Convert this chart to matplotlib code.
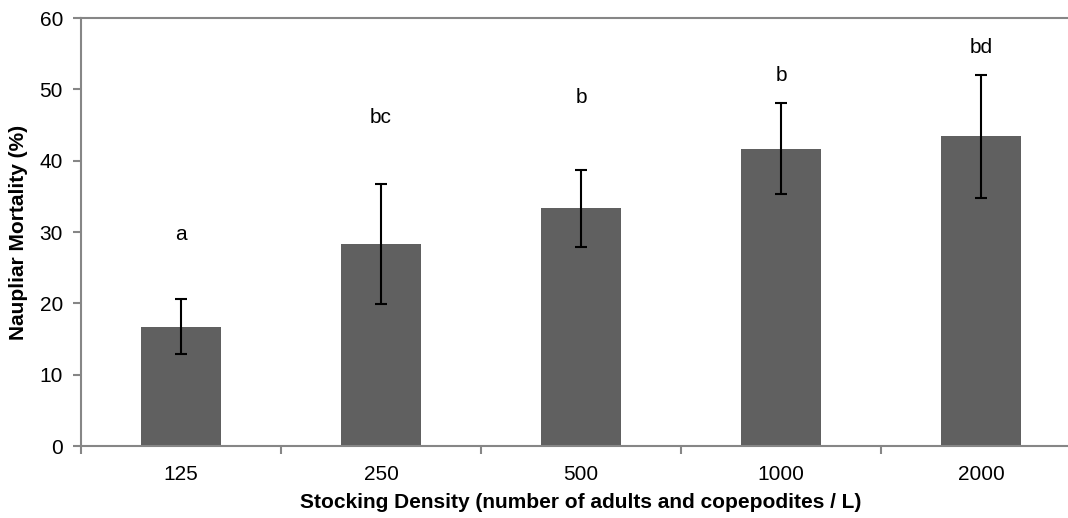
import matplotlib
matplotlib.use("Agg")
import matplotlib.pyplot as plt
import numpy as np

plt.rcParams['font.family'] = ['Liberation Sans', 'DejaVu Sans']

# data
densities = ["125", "250", "500", "1000", "2000"]
mortality = [16.7, 28.3, 33.3, 41.7, 43.4]
errors = [3.85, 8.4, 5.45, 6.4, 8.6]
letters = ["a", "bc", "b", "b", "bd"]
letter_y = [29.6, 46.0, 48.8, 52.0, 55.8]

fig = plt.figure(figsize=(10.68, 5.18), dpi=100)
# axis box runs past the right edge of the figure, as in the reference
ax = fig.add_axes([81 / 1068, 72 / 518, 1000 / 1068, 428 / 518])

x = np.arange(len(densities))
ax.bar(x, mortality, width=0.4, color="#606060", zorder=2)
ax.errorbar(x, mortality, yerr=errors, fmt="none", ecolor="black",
            elinewidth=1.5, capsize=4.5, capthick=1.5, zorder=3)

for xi, lab, ly in zip(x, letters, letter_y):
    ax.text(xi, ly, lab, ha="center", va="center", fontsize=15)

ax.set_xlim(-0.5, len(densities) - 0.5)
ax.set_ylim(0, 60)
ax.set_yticks(range(0, 61, 10))
ax.set_xticks(x)
ax.set_xticklabels(densities)
ax.set_xticks(np.arange(-0.5, len(densities), 1.0), minor=True)

ax.tick_params(axis="x", which="major", length=0, labelsize=15, pad=14)
ax.tick_params(axis="x", which="minor", length=6, width=1.5, color="#868686", direction="out")
ax.tick_params(axis="y", length=6, width=1.5, color="#868686", labelsize=15, pad=7)

for side in ["left", "bottom", "top", "right"]:
    ax.spines[side].set_color("#868686")
    ax.spines[side].set_linewidth(1.5)

ax.set_ylabel("Naupliar Mortality (%)", fontsize=15, fontweight="bold")
ax.yaxis.set_label_coords(-53 / 1000, 0.5)
ax.set_xlabel("Stocking Density (number of adults and copepodites / L)",
              fontsize=15, fontweight="bold")
ax.xaxis.set_label_coords(0.5, -47 / 428)

fig.savefig("out.png", dpi=100)
